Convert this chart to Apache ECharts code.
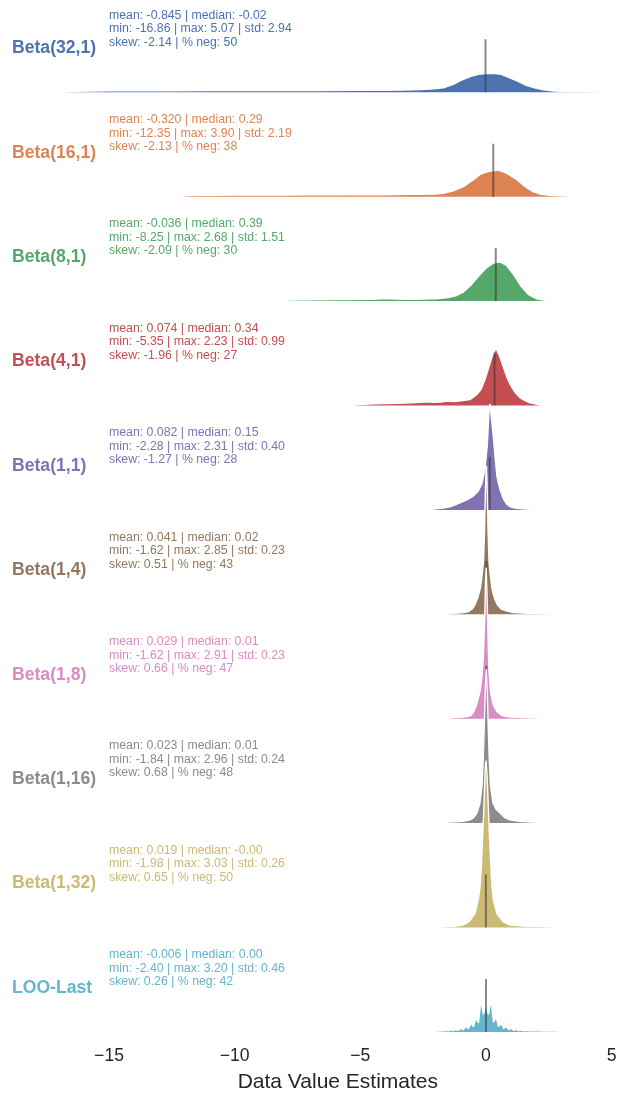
<!DOCTYPE html>
<html>
<head>
<meta charset="utf-8">
<style>
  html, body { margin: 0; padding: 0; background: #ffffff; }
  #chart { width: 618px; height: 1093px; }
</style>
<script src="https://cdn.jsdelivr.net/npm/echarts@6/dist/echarts.min.js"></script>
</head>
<body>
<div id="chart"></div>
<script>
// Ridgeline of data value estimates, one density row per weighting scheme.
const categories = ['Beta(32,1)', 'Beta(16,1)', 'Beta(8,1)', 'Beta(4,1)', 'Beta(1,1)',
                    'Beta(1,4)', 'Beta(1,8)', 'Beta(1,16)', 'Beta(1,32)', 'LOO-Last'];
const colors = ['#4C72B0', '#DD8452', '#55A868', '#C44E52', '#8172B3',
                '#937860', '#DA8BC3', '#8C8C8C', '#CCB974', '#64B5CD'];

// Summary statistics per row
const means   = [-0.845, -0.320, -0.036, 0.074, 0.082, 0.041, 0.029, 0.023, 0.019, -0.006];
const medians = [-0.02, 0.29, 0.39, 0.34, 0.15, 0.02, 0.01, 0.01, -0.004, 0.00];
const mins    = [-16.86, -12.35, -8.25, -5.35, -2.28, -1.62, -1.62, -1.84, -1.98, -2.40];
const maxs    = [5.07, 3.90, 2.68, 2.23, 2.31, 2.85, 2.91, 2.96, 3.03, 3.20];
const stds    = [2.94, 2.19, 1.51, 0.99, 0.40, 0.23, 0.23, 0.24, 0.26, 0.46];
const skews   = [-2.14, -2.13, -2.09, -1.96, -1.27, 0.51, 0.66, 0.68, 0.65, 0.26];
const pctNeg  = [50, 38, 30, 27, 28, 43, 47, 48, 50, 42];

// Axis ticks and shared x range (overall data extent)
const xTicks = [-15, -10, -5, 0, 5];
const xRange = [-16.86, 5.07];

// Kernel density estimates (x, density) per row
const xBeta32_1 = [-16.86, -16.3, -15, -13, -11, -9, -7, -5, -4, -3, -2.6, -2.2, -1.7, -1.3, -1.0, -0.6, -0.3, 0.0, 0.3, 0.6, 1.0, 1.3, 1.6, 2.0, 2.3, 2.7, 3.2, 4.0, 5.07];
const dBeta32_1 = [0, 0.020, 0.030, 0.030, 0.033, 0.035, 0.035, 0.040, 0.040, 0.045, 0.050, 0.060, 0.085, 0.150, 0.225, 0.300, 0.340, 0.355, 0.360, 0.340, 0.265, 0.200, 0.130, 0.075, 0.045, 0.025, 0.015, 0.008, 0];

const xBeta16_1 = [-12.35, -11.8, -10, -8, -6.2, -5, -4, -3.1, -2.5, -2.0, -1.7, -1.3, -0.9, -0.5, -0.24, 0.1, 0.48, 0.8, 1.23, 1.5, 1.87, 2.2, 2.67, 3.2, 3.9];
const dBeta16_1 = [0, 0.020, 0.030, 0.032, 0.040, 0.035, 0.038, 0.045, 0.045, 0.050, 0.065, 0.110, 0.190, 0.320, 0.420, 0.480, 0.500, 0.450, 0.320, 0.210, 0.095, 0.045, 0.020, 0.010, 0];

const xBeta8_1 = [-8.25, -7.8, -6, -4.5, -4, -3.6, -3, -2.5, -2.0, -1.5, -1.2, -0.9, -0.6, -0.3, 0.0, 0.3, 0.55, 0.8, 1.1, 1.4, 1.7, 2.0, 2.3, 2.68];
const dBeta8_1 = [0, 0.020, 0.030, 0.035, 0.050, 0.040, 0.035, 0.040, 0.045, 0.065, 0.100, 0.170, 0.300, 0.470, 0.620, 0.720, 0.740, 0.680, 0.500, 0.280, 0.120, 0.045, 0.020, 0];

const xBeta4_1 = [-5.35, -5, -4.5, -4, -3.5, -3, -2.6, -2.35, -2.1, -1.8, -1.55, -1.3, -1.0, -0.64, -0.36, -0.2, -0.04, 0.1, 0.24, 0.4, 0.55, 0.68, 0.82, 0.96, 1.15, 1.35, 1.55, 1.75, 2.0, 2.23];
const dBeta4_1 = [0, 0.020, 0.030, 0.035, 0.040, 0.050, 0.060, 0.070, 0.060, 0.065, 0.085, 0.075, 0.090, 0.110, 0.210, 0.300, 0.490, 0.700, 0.920, 1.080, 0.920, 0.740, 0.550, 0.400, 0.250, 0.150, 0.090, 0.050, 0.025, 0];

const xBeta1_1 = [-2.28, -2.0, -1.7, -1.43, -1.2, -1.0, -0.76, -0.5, -0.3, -0.16, -0.05, 0.05, 0.12, 0.16, 0.2, 0.28, 0.36, 0.44, 0.56, 0.7, 0.84, 1.0, 1.23, 1.6, 2.31];
const dBeta1_1 = [0, 0.020, 0.035, 0.060, 0.100, 0.140, 0.190, 0.260, 0.360, 0.500, 0.750, 1.200, 1.850, 2.000, 1.800, 1.450, 1.000, 0.620, 0.380, 0.200, 0.100, 0.050, 0.030, 0.018, 0];

const xBeta1_4 = [-1.62, -1.4, -1.1, -0.9, -0.7, -0.55, -0.45, -0.32, -0.22, -0.16, -0.1, -0.06, -0.03, 0.0, 0.02, 0.05, 0.08, 0.12, 0.18, 0.24, 0.34, 0.44, 0.6, 0.84, 1.1, 1.5, 2.0, 2.85];
const dBeta1_4 = [0, 0.020, 0.025, 0.035, 0.050, 0.100, 0.170, 0.320, 0.500, 0.720, 1.000, 1.500, 2.200, 2.750, 2.800, 2.300, 1.600, 1.000, 0.700, 0.470, 0.300, 0.190, 0.100, 0.060, 0.035, 0.022, 0.016, 0];

const xBeta1_8 = [-1.62, -1.3, -1.0, -0.8, -0.6, -0.52, -0.4, -0.32, -0.22, -0.16, -0.1, -0.05, -0.02, 0.01, 0.04, 0.08, 0.12, 0.18, 0.24, 0.3, 0.44, 0.6, 0.8, 1.1, 1.6, 2.91];
const dBeta1_8 = [0, 0.020, 0.025, 0.035, 0.060, 0.110, 0.220, 0.360, 0.550, 0.800, 1.200, 1.900, 2.600, 2.850, 2.400, 1.500, 0.900, 0.500, 0.360, 0.250, 0.130, 0.070, 0.040, 0.025, 0.016, 0];

const xBeta1_16 = [-1.84, -1.5, -1.2, -0.9, -0.64, -0.5, -0.36, -0.24, -0.16, -0.11, -0.07, -0.03, 0.01, 0.05, 0.09, 0.13, 0.18, 0.28, 0.4, 0.56, 0.75, 0.96, 1.3, 1.8, 2.96];
const dBeta1_16 = [0, 0.020, 0.025, 0.035, 0.060, 0.100, 0.190, 0.380, 0.700, 1.200, 1.800, 2.500, 2.900, 2.500, 1.800, 1.200, 0.700, 0.380, 0.260, 0.190, 0.100, 0.060, 0.035, 0.020, 0];

const xBeta1_32 = [-1.98, -1.5, -1.2, -0.92, -0.7, -0.44, -0.3, -0.24, -0.18, -0.14, -0.08, -0.03, 0.0, 0.04, 0.1, 0.14, 0.2, 0.24, 0.3, 0.44, 0.7, 0.96, 1.5, 2.2, 3.03];
const dBeta1_32 = [0, 0.020, 0.025, 0.045, 0.100, 0.260, 0.550, 0.750, 1.200, 1.640, 2.300, 3.000, 3.150, 2.900, 2.200, 1.700, 1.100, 0.750, 0.500, 0.260, 0.100, 0.045, 0.025, 0.016, 0];

const xLooLast = [-2.40, -1.90, -1.70, -1.60, -1.50, -1.40, -1.30, -1.20, -1.10, -1.00, -0.90, -0.80, -0.70, -0.60, -0.50, -0.40, -0.30, -0.20, -0.10, 0.00, 0.10, 0.20, 0.30, 0.40, 0.50, 0.60, 0.70, 0.80, 0.90, 1.00, 1.10, 1.20, 1.30, 1.40, 1.50, 1.60, 1.70, 1.80, 2.00, 2.40, 2.80, 3.20];
const dLooLast = [0, 0.018, 0.020, 0.030, 0.022, 0.040, 0.025, 0.050, 0.030, 0.068, 0.040, 0.110, 0.060, 0.170, 0.100, 0.270, 0.170, 0.610, 0.330, 0.500, 0.330, 0.610, 0.180, 0.290, 0.100, 0.170, 0.060, 0.110, 0.040, 0.070, 0.030, 0.048, 0.025, 0.036, 0.022, 0.030, 0.020, 0.024, 0.020, 0.018, 0.016, 0];

const densityX = [xBeta32_1, xBeta16_1, xBeta8_1, xBeta4_1, xBeta1_1, xBeta1_4, xBeta1_8, xBeta1_16, xBeta1_32, xLooLast];
const densityY = [dBeta32_1, dBeta16_1, dBeta8_1, dBeta4_1, dBeta1_1, dBeta1_4, dBeta1_8, dBeta1_16, dBeta1_32, dLooLast];

// Layout: each row is its own grid; rows overlap upward
const FONT = '"Liberation Sans", Arial, Helvetica, sans-serif';
const firstBase = 92.3;
const rowStep = 104.4;
const rowHeight = 53;           // one density unit; also the median line height
const plotLeft = 62.3;
const plotRight = 4.6;
const textLeft = 109;

const grids = [], xAxes = [], yAxes = [], series = [], graphics = [];
const minusFmt = v => (v < 0 ? '\u2212' : '') + Math.abs(v);

categories.forEach((name, i) => {
  const base = firstBase + i * rowStep;
  const last = i === categories.length - 1;
  grids.push({
    left: plotLeft, right: plotRight, top: base - rowHeight, height: rowHeight,
    containLabel: false, outerBoundsMode: 'none'
  });
  xAxes.push({
    gridIndex: i, type: 'value', min: xRange[0], max: xRange[1],
    show: last,
    axisLine: { show: false }, axisTick: { show: false }, splitLine: { show: false },
    axisLabel: {
      show: last, customValues: xTicks, showMinLabel: true, showMaxLabel: true,
      fontFamily: FONT, fontSize: 17.6, color: '#262626', margin: 15, formatter: minusFmt
    },
    name: last ? 'Data Value Estimates' : '',
    nameLocation: 'middle', nameGap: 40,
    nameTextStyle: { fontFamily: FONT, fontSize: 21, color: '#262626' }
  });
  yAxes.push({ gridIndex: i, type: 'value', min: 0, max: 1, show: false });

  series.push({
    type: 'line', name, xAxisIndex: i, yAxisIndex: i,
    data: densityX[i].map((x, j) => [x, densityY[i][j]]),
    symbol: 'none', clip: false, silent: true,
    lineStyle: { color: '#ffffff', width: 1.4 },
    areaStyle: { color: colors[i], opacity: 1 },
    z: 10 + 2 * i
  });
  series.push({
    type: 'line', name: name + ' median', xAxisIndex: i, yAxisIndex: i,
    data: [[medians[i], 0], [medians[i], 1]],
    symbol: 'none', clip: false, silent: true,
    lineStyle: { color: '#3a3a3a', opacity: 0.6, width: 2 },
    z: 11 + 2 * i
  });

  graphics.push({
    type: 'text', x: 12, y: base - 44, z: 200,
    style: { text: name, fill: colors[i], font: 'bold 17.6px ' + FONT, align: 'left', verticalAlign: 'middle' }
  });
  const stats =
    'mean: ' + means[i].toFixed(3) + ' | median: ' + medians[i].toFixed(2) + '\n' +
    'min: ' + mins[i].toFixed(2) + ' | max: ' + maxs[i].toFixed(2) + ' | std: ' + stds[i].toFixed(2) + '\n' +
    'skew: ' + skews[i].toFixed(2) + ' | % neg: ' + pctNeg[i];
  graphics.push({
    type: 'text', x: textLeft, y: base - 63.5, z: 200,
    style: { text: stats, fill: colors[i], font: '12.3px ' + FONT, lineHeight: 13.5, align: 'left', verticalAlign: 'middle' }
  });
});

const chart = echarts.init(document.getElementById('chart'), null, { renderer: 'canvas' });
chart.setOption({
  animation: false,
  backgroundColor: '#ffffff',
  grid: grids,
  xAxis: xAxes,
  yAxis: yAxes,
  series: series,
  graphic: graphics
});
</script>
</body>
</html>
